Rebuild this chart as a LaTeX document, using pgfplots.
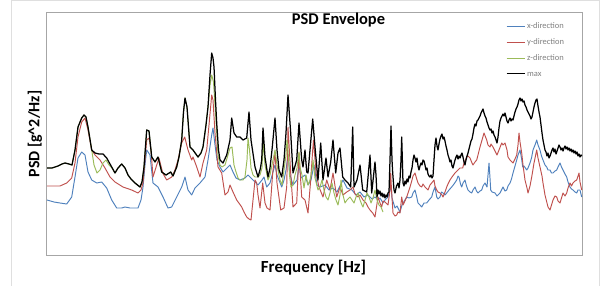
\documentclass[border=0pt]{standalone}
\usepackage{pgfplots}
\pgfplotsset{compat=1.18}
\usepackage{fontspec}
\setmainfont{Carlito}
\definecolor{xblue}{HTML}{4F81BD}
\definecolor{yred}{HTML}{C0504D}
\definecolor{zgreen}{HTML}{9BBB59}
\begin{document}
\begin{tikzpicture}
\useasboundingbox (0,0) rectangle (607bp,286bp);
\fill[white] (0,0) rectangle (607bp,286bp);
\draw[gray!25, line width=1bp] (11bp,-2bp) -- (11bp,285bp) -- (599bp,285bp) -- (599bp,-2bp);
\begin{axis}[
  at={(46bp,31bp)}, anchor=south west,
  scale only axis, width=536bp, height=243bp,
  xmin=46, xmax=582, ymin=12, ymax=255, y dir=reverse,
  xtick=\empty, ytick=\empty,
  axis line style={draw=gray!70, line width=0.8bp},
  every axis plot/.append style={line join=round},
  legend cell align=left,
  legend image code/.code={\draw[#1] (0bp,0bp) -- (18bp,0bp);},
  legend style={at={(0.858,0.955)}, anchor=north west, draw=none, fill=none,
    inner sep=0pt, outer sep=0pt, row sep=8.2bp,
    font=\fontsize{8.5}{10}\selectfont, text=gray,
    nodes={inner sep=0pt, text height=6bp, text depth=1.5bp},
    /tikz/every odd column/.append style={column sep=2bp}},
]
% x-direction
\addplot[xblue, line width=0.95bp] coordinates {
(47,200)(54,202)(60,203)(66.7,204)(71.7,197)(75,177)(78,158)(81.7,152)(85,155)(88,172)(91.7,180)(96.7,183)(101.7,182)(106.7,188)(111.7,200)(116.7,208)(121.7,208)(125,207)(130,208)(138,208)(141,200)(143,187)(145,165)(146.7,150)(150,155)(153,183)(158,187)(163,197)(168,208)(171.7,207)(176.7,197)(181.7,187)(185,177)(188,190)(191.7,195)(195,188)(200,183)(205,177)(208,160)(211.7,135)(213,128)(215,145)(217,160)(220,167)(223,172)(227,168)(230,165)(233,172)(236,178)(240,180)(245,178)(248,175)(251,178)(255,182)(258,185)(262,180)(264,177)(266.7,187)(270,183)(273,172)(275,165)(277,175)(281.7,187)(284,180)(286,170)(288,155)(290,175)(293,185)(297,180)(299,165)(301,178)(305,175)(308,185)(311,180)(314,165)(317,185)(320,187)(325,185)(329,190)(333,188)(337,192)(343,180)(347,188)(352,190)(356,195)(360,192)(364,197)(368,195)(372,199)(375,197)(378,200)(380,198)(383,203)(385,200)(388,197)(390,190)(391,185)(392,198)(395,208)(397,206)(400,212)(402,205)(403,203)(405,200)(406.7,197)(409,198)(411.7,197)(413,193)(415,190)(416.5,196)(418,203)(420,205)(421.7,207)(424,203)(426.7,203)(429,200)(431.7,197)(433,192)(435,187)(436.7,197)(438,199)(440,197)(441.5,192)(443,193)(445,195)(446.7,193)(449,190)(451.7,187)(454,184)(456.7,180)(458,176)(459,177)(460.5,184)(461.7,187)(463,183)(465,180)(466.5,186)(468,190)(470,192)(471.7,193)(473,190)(475,187)(476.5,191)(478,193)(480,191)(481.7,190)(483,186)(485,183)(487,187)(488,175)(489,163)(490,178)(490.7,190)(492,192)(495,193)(497,196)(500,193)(501.5,190)(503,187)(505,191)(506.7,190)(508,186)(510,183)(511.5,179)(513,173)(515,166)(516.7,160)(518,155)(520,150)(521.5,158)(522.7,167)(524,166)(526.7,170)(528,168)(530,163)(531.5,158)(533,150)(535,145)(536.7,140)(538,145)(540,150)(541.5,156)(543,160)(545,165)(546.7,167)(548,170)(550,170)(551.5,173)(553,173)(555,171)(556.7,170)(558,167)(560,163)(561.5,167)(563,170)(565,174)(566.7,177)(568,182)(570,187)(571.5,189)(573,190)(575,192)(576.7,193)(578,190)(580,190)(581.7,197)
};
\addlegendentry{x-direction}
% y-direction
\addplot[yred, line width=0.95bp] coordinates {
(47,186)(54,186)(60,186)(66.7,183)(71.7,178)(75,163)(78,137)(81.7,122)(85,118)(88,130)(91.7,150)(95,155)(100,160)(105,168)(110,177)(115,182)(123,187)(131.7,190)(138,193)(141,190)(143,183)(145,160)(146.7,140)(149,138)(151,150)(153,177)(156.7,165)(159,158)(162.7,173)(166.7,180)(171.7,177)(175,170)(178,160)(181.7,143)(184.7,137)(188,150)(191.7,160)(193,157)(196,165)(200,177)(203,163)(206.7,150)(209,125)(211.7,95)(213,100)(215,133)(218,167)(221.7,173)(225,195)(228,192)(230,185)(233,192)(236.7,200)(241.7,207)(244,212)(246.7,217)(249,219)(251,220)(253,200)(255,180)(256.7,183)(258,195)(260,208)(262.7,183)(265,203)(267,208)(270,210)(272.7,173)(275,153)(277,183)(280.7,210)(284,208)(286.7,187)(288,127)(290.7,173)(293,207)(296.7,203)(299,153)(301.7,197)(305,200)(308,213)(310.7,180)(312.7,150)(313.5,140)(316,173)(319,187)(323,197)(326.7,180)(330,190)(333,173)(336.7,197)(340,187)(343,195)(346.7,192)(350,190)(353,187)(355,194)(358,197)(360,195)(363,200)(366,203)(368,207)(370,210)(372.7,213)(375,217)(378,197)(380,203)(381.7,207)(383,201)(385,202)(388,205)(390,190)(390.7,173)(391.5,190)(393,213)(395,216)(396.7,215)(398,212)(400,213)(401.7,197)(403,205)(404,203)(406.7,197)(408,193)(410,187)(412,180)(413,176)(415,173)(417,180)(418,183)(420,186)(421.7,187)(423,184)(425,187)(427,189)(428,190)(430,185)(431.7,183)(434,180)(435,186)(436.7,190)(438,192)(440,193)(442,195)(443,197)(445,192)(446.7,187)(448,184)(450,180)(452,177)(455,173)(457,171)(458,170)(460,168)(462.7,168)(464,163)(466.7,157)(468,156)(470,158)(472,163)(473,165)(475,162)(476.7,160)(478,155)(480,147)(482,140)(484,133)(486.7,140)(488,145)(490,147)(491,144)(493,147)(495,151)(497,155)(499,150)(501.7,143)(503,145)(505,143)(507,150)(508,157)(510,160)(513,163)(515,159)(516.7,155)(518,145)(519,133)(520,142)(521.7,153)(523,165)(525,180)(527,188)(528,193)(530,186)(531.7,177)(534,163)(536.7,150)(538,158)(540,167)(542,176)(543,183)(545,195)(547,203)(548,207)(550,210)(551.5,205)(553,200)(555,196)(556.7,197)(558,201)(560,203)(561.5,198)(563,193)(565,196)(566.7,193)(568,188)(570,183)(571.5,186)(573,183)(575,181)(576.7,180)(578,176)(579,173)(580,182)(581.7,190)
};
\addlegendentry{y-direction}
% z-direction
\addplot[zgreen, line width=0.95bp] coordinates {
(47,168)(52,168)(58,166)(62,164)(65,163)(69,164)(72,165)(75,150)(78,127)(81.7,118)(84,115)(86,117)(88,127)(91.7,150)(94,165)(97,173)(100,170)(103,163)(106,160)(109,165)(112,168)(115,173)(118,168)(121.7,164)(125,168)(128,175)(131,179)(135,183)(140,187)(142,182)(144,167)(146.7,130)(149,131)(151.7,157)(155,162)(158,157)(161.7,172)(166,175)(170.7,172)(173,176)(176.7,167)(179,157)(181.7,140)(183.5,112)(185,98)(187,107)(190,147)(193,150)(198,157)(201,153)(203,147)(206,125)(208,107)(210,85)(211.7,75)(213.5,82)(216,120)(218,155)(220,165)(222,167)(225,165)(228,155)(230,148)(232,147)(234,165)(236,172)(238,178)(240,180)(243,180)(245,177)(247,160)(248,138)(249.5,150)(251,168)(253,175)(255,177)(258,177)(260,175)(262,168)(263,140)(265,165)(268,180)(270,175)(272,165)(275,150)(277,165)(280,180)(282,185)(284,170)(286,155)(287,140)(288,150)(289.5,175)(291,187)(293,185)(295,175)(297,168)(299,152)(300,167)(302,175)(304,188)(306,175)(308,185)(310,180)(312,170)(313,160)(315,178)(318,190)(320,187)(322,180)(324,190)(326,197)(328,200)(330,193)(332,183)(334,193)(336,200)(338,205)(340,195)(341,180)(343,195)(345,203)(347,200)(350,197)(352,200)(354,203)(356,197)(358,193)(360,200)(362,205)(363,207)(365,200)(367,193)(369,197)(371,203)(373,198)(375,190)(377,200)(379,205)(381,207)(383,212)
};
\addlegendentry{z-direction}
% max
\addplot[black, line width=1.25bp] coordinates {
(47,168)(52,168)(58,166)(62,164)(65,163)(69,164)(72,165)(75,150)(78,127)(81.7,118)(84,115)(86,117)(88,127)(91.7,150)(95,153)(99,154)(103,154)(106.7,158)(111.7,167)(115,173)(118,168)(121.7,164)(125,168)(128,175)(131,179)(135,183)(140,187)(142,182)(144,167)(146.7,130)(149,131)(151.7,157)(155,162)(158,157)(161.7,172)(166,175)(170.7,172)(173,176)(176.7,167)(179,157)(181.7,140)(183.5,112)(185,98)(187,107)(190,147)(193,150)(198,157)(201,153)(203,147)(206,125)(208,107)(210,75)(211.7,53)(213,58)(214,67)(215.5,100)(216.7,123)(218.5,150)(220,160)(223,163)(226.7,155)(230,140)(231.7,118)(234,133)(236.7,137)(240,137)(243,140)(246.7,138)(249,112)(251,140)(255,167)(258,177)(260.5,168)(261.7,160)(263,128)(265,157)(268,177)(270,168)(272,150)(275,118)(277,150)(279,170)(281.7,177)(284,160)(286,133)(288,95)(290.7,133)(293,173)(296.7,160)(299,123)(301.7,160)(303,167)(305,150)(306.7,172)(308,173)(310,150)(312.7,119)(315,147)(318,180)(320.7,143)(323,180)(326,158)(328,177)(330.7,162)(333,140)(335.7,173)(338,153)(340,148)(342.7,177)(345,180)(348,183)(350.7,187)(352.7,127)(354,187)(357,180)(360,165)(362.7,190)(366.7,192)(370,155)(371.7,193)(375,162)(376,175)(377,197)(378,190)(379,194)(380,191)(381,196)(382,193)(383,197)(384,194)(385,198)(386,195)(387,197)(388,193)(389,192)(390,160)(391,126)(392,160)(392.7,173)(394,190)(395,193)(396.5,186)(398,183)(399,188)(400,180)(401,160)(401.7,137)(402.5,165)(403,183)(404,186)(405,181)(406,184)(407,179)(408,182)(409,176)(410,178)(411,172)(412,168)(413,160)(414,155)(415,158)(416,162)(417,158)(418,166)(419,170)(420,166)(421,163)(422,165)(423,160)(424,161)(425,165)(426,170)(427,168)(428,174)(429,176)(430,177)(431,175)(432,178)(433,176)(434,160)(435,145)(436,138)(437,146)(438,150)(439,144)(440,139)(441,136)(442,134)(443,139)(444,137)(445,141)(446,146)(447,150)(448,155)(449,158)(450,162)(451,160)(452,166)(453,168)(454,164)(455,160)(456,157)(457,155)(458,159)(459,156)(460,158)(461,155)(462,153)(463,157)(464,162)(465,165)(466,160)(467,156)(468,153)(469,149)(470,145)(471,141)(472,139)(473,134)(474,128)(475,124)(476,126)(477,121)(478,120)(479,118)(480,116)(481,113)(482,111)(483,109)(484,113)(485,116)(486,118)(487,122)(488,125)(489,128)(490,130)(491,129)(492,133)(493,131)(494,135)(495,137)(496,140)(497,143)(498,137)(499,128)(500,121)(501,118)(502,116)(503,114)(504,116)(505,113)(506,117)(507,121)(508,123)(509,120)(510,118)(511,121)(512,119)(513,120)(514,116)(515,112)(516,109)(517,107)(518,104)(519,100)(520,98)(521,101)(522,99)(523,102)(524,101)(525,105)(526,107)(527,110)(528,112)(529,114)(530,116)(531,119)(532,117)(533,112)(534,107)(535,103)(536,100)(537,99)(538,106)(539,112)(540,117)(541,125)(542,133)(543,140)(544,145)(545,150)(546,152)(547,156)(548,153)(549,158)(550,156)(551,153)(552,150)(553,148)(554,152)(555,149)(556,154)(557,151)(558,148)(559,145)(560,147)(561,150)(562,148)(563,151)(564,148)(565,146)(566,149)(567,147)(568,150)(569,148)(570,151)(571,149)(572,152)(573,150)(574,153)(575,151)(576,154)(577,152)(578,156)(579,154)(580,157)(581,155)(582,156)
};
\addlegendentry{max}
\end{axis}
\node[anchor=base, font=\fontsize{16.5}{19}\selectfont\bfseries] at (338.5bp,261.5bp) {PSD Envelope};
\node[anchor=base, font=\fontsize{17}{20}\selectfont\bfseries] at (313.6bp,14bp) {Frequency [Hz]};
\node[rotate=90, anchor=center, font=\fontsize{16}{19}\selectfont\bfseries] at (35bp,152bp) {PSD [g\^{}2/Hz]};
\end{tikzpicture}
\end{document}
